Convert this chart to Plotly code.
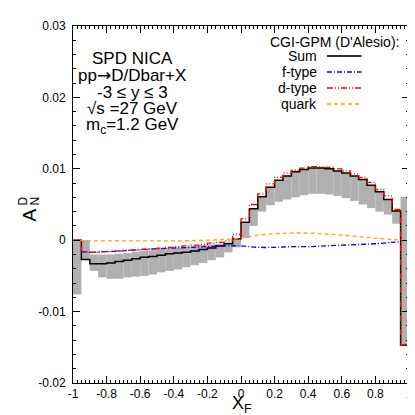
import plotly.graph_objects as go

# 40 bins of width 0.05 in x_F
bin_width = 0.05
xf_edges = [round(-1 + bin_width * i, 3) for i in range(41)]
xf_centers = [round(e + bin_width / 2, 3) for e in xf_edges[:-1]]

# Sum (step histogram)
a_sum = [0.0, -0.0027, -0.0033, -0.0033, -0.0032, -0.0030, -0.0028, -0.0026, -0.0024, -0.0023,
         -0.0021, -0.0019, -0.0018, -0.0017, -0.0015, -0.0013, -0.0011, -0.0008, -0.0005, 0.0002,
         0.0025, 0.0044, 0.0061, 0.0074, 0.0084, 0.0090, 0.0096, 0.0099, 0.0101, 0.0101,
         0.0100, 0.0097, 0.0094, 0.0090, 0.0085, 0.0077, 0.0068, 0.0057, 0.0041, -0.0147]

# grey band (low / high edge per bin)
band_lo = [-0.0076, -0.0027, -0.0043, -0.0052, -0.0054, -0.0054, -0.0052, -0.0051, -0.0050, -0.0048,
           -0.0045, -0.0043, -0.0041, -0.0038, -0.0035, -0.0032, -0.0028, -0.0024, -0.0017, -0.0010,
           0.0003, 0.0020, 0.0040, 0.0049, 0.0054, 0.0057, 0.0060, 0.0063, 0.0065, 0.0065,
           0.0064, 0.0062, 0.0059, 0.0055, 0.0050, 0.0045, 0.0040, 0.0036, 0.0023, -0.0147]
band_hi = [0.0, 0.0, -0.0020, -0.0020, -0.0020, -0.0019, -0.0018, -0.0016, -0.0015, -0.0014,
           -0.0012, -0.0011, -0.0010, -0.0009, -0.0008, -0.0007, -0.0006, -0.0005, -0.0003, 0.0002,
           0.0025, 0.0044, 0.0061, 0.0074, 0.0084, 0.0090, 0.0096, 0.0099, 0.0101, 0.0101,
           0.0100, 0.0097, 0.0094, 0.0090, 0.0085, 0.0077, 0.0068, 0.0057, 0.0041, 0.0061]

# d-type (step histogram)
a_dtype = [0.0, -0.0016, -0.0017, -0.0016, -0.0016, -0.0015, -0.0014, -0.0014, -0.0013, -0.0012,
           -0.0011, -0.0010, -0.0009, -0.0008, -0.0007, -0.0006, -0.0004, -0.0003, -0.0001, 0.0008,
           0.0030, 0.0050, 0.0065, 0.0079, 0.0088, 0.0094, 0.0098, 0.0101, 0.0103, 0.0103,
           0.0102, 0.0100, 0.0097, 0.0093, 0.0088, 0.0081, 0.0071, 0.0062, 0.0043, -0.0147]

# f-type (smooth curve)
xf_ftype = [-0.95, -0.9, -0.8, -0.7, -0.6, -0.5, -0.4, -0.3, -0.2, -0.1, 0.0,
            0.1, 0.2, 0.3, 0.4, 0.5, 0.6, 0.7, 0.8, 0.9, 0.95]
a_ftype = [-0.0016, -0.0017, -0.0016, -0.0015, -0.0013, -0.0012, -0.0011, -0.0010, -0.0009, -0.0008, -0.0008,
           -0.0010, -0.0010, -0.0009, -0.0009, -0.0008, -0.0007, -0.0006, -0.0005, -0.0003, -0.0002]

# quark (smooth curve)
xf_quark = [-1.0, -0.9, -0.8, -0.6, -0.4, -0.2, -0.1, 0.0, 0.1, 0.2, 0.3, 0.4, 0.5, 0.6, 0.7, 0.8, 0.9, 0.95]
a_quark = [0.0, -0.0001, -0.0001, -0.0001, -0.0001, 0.0, 0.0001, 0.0003, 0.0007, 0.0009, 0.0010,
           0.0010, 0.0009, 0.0007, 0.0005, 0.0003, 0.0001, 0.0]

ARROW = '<span style="font-family:DejaVu Sans">→</span>'
info_lines = ["SPD NICA", "pp" + ARROW + "D/Dbar+X", "-3 ≤ y ≤ 3", "√s =27 GeV", "m<sub>c</sub>=1.2 GeV"]
legend_title = "CGI-GPM (D'Alesio):"
legend_names = ["Sum", "f-type", "d-type", "quark"]
legend_colors = ["#303030", "#0000ff", "#ff0000", "#ffa500"]
legend_dash = ["solid", "5px,2px,1px,2px", "6px,2px,1px,2px,1px,2px", "4px,3px"]

xticks = [-1, -0.8, -0.6, -0.4, -0.2, 0, 0.2, 0.4, 0.6, 0.8, 1]
xtick_text = ["-1", "-0.8", "-0.6", "-0.4", "-0.2", "0", "0.2", "0.4", "0.6", "0.8", "1"]
yticks = [-0.02, -0.01, 0, 0.01, 0.02, 0.03]
ytick_text = ["-0.02", "-0.01", "0", "0.01", "0.02", "0.03"]

FONT = "Liberation Sans, Arial, sans-serif"
L, R, T, B, W, H = 65, 10, 18, 40, 415, 415


def px(x):
    # pixel -> paper (x)
    return (x - L) / (W - L - R)


def py(y):
    # pixel -> paper (y)
    return (H - B - y) / (H - T - B)


def label(text, x, y, size, xanchor="center", angle=0):
    fig.add_annotation(text=text, xref="paper", yref="paper", x=px(x), y=py(y), textangle=angle,
                       xanchor=xanchor, yanchor="middle", showarrow=False,
                       font=dict(family=FONT, size=size, color="black"))


fig = go.Figure()

# grey band as bars
fig.add_trace(go.Bar(
    x=xf_centers,
    y=[h - l for h, l in zip(band_hi, band_lo)],
    base=band_lo,
    width=bin_width,
    marker=dict(color="rgb(176,176,176)", line=dict(width=0)),
    showlegend=False
))

# Sum
fig.add_trace(go.Scatter(
    x=xf_edges, y=a_sum + [a_sum[-1]],
    mode="lines", line=dict(color="black", width=1.5, shape="hv"),
    showlegend=False
))

# f-type
fig.add_trace(go.Scatter(
    x=xf_ftype, y=a_ftype,
    mode="lines", line=dict(color=legend_colors[1], width=1.3, dash=legend_dash[1], shape="spline"),
    showlegend=False
))

# d-type
fig.add_trace(go.Scatter(
    x=xf_edges, y=a_dtype + [a_dtype[-1]],
    mode="lines", line=dict(color=legend_colors[2], width=1.3, dash=legend_dash[2], shape="hv"),
    showlegend=False
))

# quark
fig.add_trace(go.Scatter(
    x=xf_quark, y=a_quark,
    mode="lines", line=dict(color=legend_colors[3], width=1.3, dash=legend_dash[3], shape="spline"),
    showlegend=False
))

# text block on the left
info_y = [50, 67, 84, 101, 118]
for txt, yy in zip(info_lines, info_y):
    label(txt, 125, yy, 17)

# hand-made legend: text on the left, line sample on the right
label(legend_title, 397, 34, 14, xanchor="right")
leg_y = [48, 64, 80, 96]
for name, col, dash, yy in zip(legend_names, legend_colors, legend_dash, leg_y):
    label(name, 314, yy, 14, xanchor="right")
    fig.add_shape(type="line", xref="paper", yref="paper", x0=px(322), x1=px(357), y0=py(yy), y1=py(yy),
                  line=dict(color=col, width=2 if name == "Sum" else 1.3, dash=dash))

# y-axis title A_N^D with D stacked over N
label("A", 20, 207, 19, angle=-90)
label("N", 27, 193, 12, angle=-90)
label("D", 14, 193, 12, angle=-90)

# x-axis title X_F
label("X<sub>F</sub>", 236, 396, 18)

axis_common = dict(
    showline=True, linewidth=1, linecolor="black", mirror="allticks",
    ticks="inside", ticklen=7, tickwidth=1, tickcolor="black",
    showgrid=False, zeroline=False,
    tickfont=dict(family=FONT, size=12, color="black"),
)

fig.update_xaxes(
    range=[-1, 1], tickvals=xticks, ticktext=xtick_text,
    minor=dict(ticks="inside", ticklen=3, dtick=0.025, tick0=-1, tickcolor="black", showgrid=False),
    **axis_common
)
fig.update_yaxes(
    range=[-0.02, 0.03], tickvals=yticks, ticktext=ytick_text,
    minor=dict(ticks="inside", ticklen=3, dtick=0.002, tick0=0, tickcolor="black", showgrid=False),
    ticklabelstandoff=4,
    **axis_common
)

fig.update_layout(
    width=W, height=H,
    margin=dict(l=L, r=R, t=T, b=B),
    plot_bgcolor="white", paper_bgcolor="white",
    showlegend=False,
    font=dict(family=FONT, color="black"),
)

fig.write_html("out.html")
